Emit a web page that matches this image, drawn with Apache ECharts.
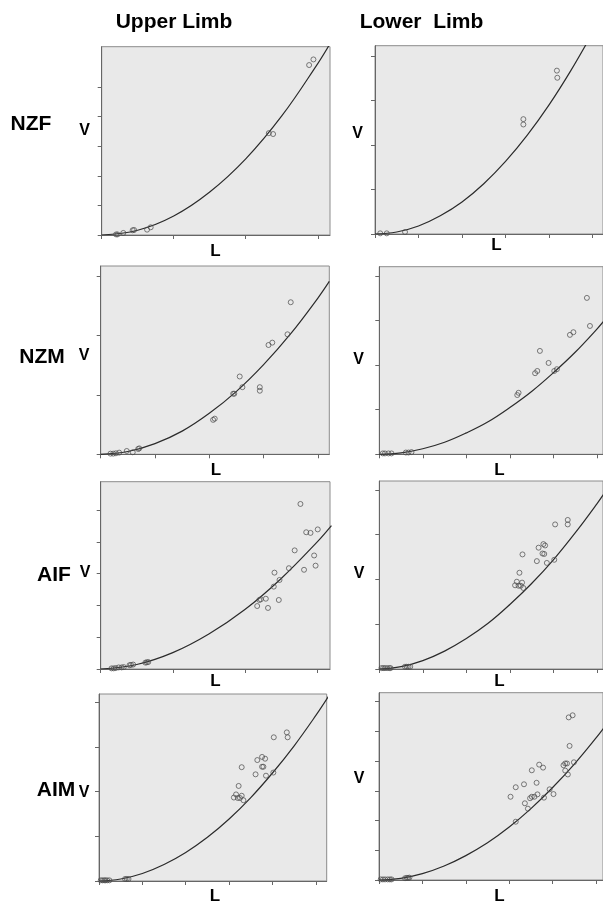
<!DOCTYPE html>
<html>
<head>
<meta charset="utf-8">
<script src="https://cdn.jsdelivr.net/npm/echarts@6/dist/echarts.min.js"></script>
<style>
html,body{margin:0;padding:0;background:#fff;}
#c{width:603px;height:908px;}
</style>
</head>
<body>
<div id="c"></div>
<script>
// ---------- DATA (in axis-tick units) ----------
const columnTitles = ['Upper Limb', 'Lower  Limb'];
const rowLabels = ['NZF', 'NZM', 'AIF', 'AIM'];
const xAxisName = 'L';
const yAxisName = 'V';

// tick positions per panel
const ticksX_ulNZF = [0, 1, 2, 3];
const ticksY_ulNZF = [0, 1, 2, 3, 4, 5];
const ticksX_llNZF = [0, 1, 2, 3, 4, 5];
const ticksY_llNZF = [0, 1, 2, 3, 4];
const ticksX_ulNZM = [0, 1, 2, 3, 4];
const ticksY_ulNZM = [0, 1, 2, 3];
const ticksX_llNZM = [0, 1, 2, 3, 4, 5];
const ticksY_llNZM = [0, 1, 2, 3, 4];
const ticksX_ulAIF = [0, 1, 2, 3];
const ticksY_ulAIF = [0, 1, 2, 3, 4, 5];
const ticksX_llAIF = [0, 1, 2, 3, 4, 5];
const ticksY_llAIF = [0, 1, 2, 3, 4];
const ticksX_ulAIM = [0, 1, 2, 3, 4, 5];
const ticksY_ulAIM = [0, 1, 2, 3, 4];
const ticksX_llAIM = [0, 1, 2, 3, 4, 5];
const ticksY_llAIM = [0, 1, 2, 3, 4, 5, 6];

// Upper limb, NZF
const ulNZF_L = [0.20, 0.22, 0.30, 0.43, 0.45, 0.63, 0.68, 2.32, 2.38, 2.88, 2.94];
const ulNZF_V = [0.02, 0.02, 0.07, 0.16, 0.17, 0.18, 0.26, 3.44, 3.41, 5.74, 5.93];
const ulNZF_curveL = [0, 0.5, 1, 1.5, 2, 2.5, 3, 3.17];
const ulNZF_curveV = [0, 0.16, 0.64, 1.45, 2.57, 4.02, 5.79, 6.46];

// Lower limb, NZF
const llNZF_L = [0.12, 0.27, 0.69, 3.41, 3.41, 4.18, 4.19];
const llNZF_V = [0.015, 0.015, 0.045, 2.58, 2.46, 3.67, 3.51];
const llNZF_curveL = [0, 0.5, 1, 1.5, 2, 2.5, 3, 3.5, 4, 4.5, 5];
const llNZF_curveV = [0, 0.045, 0.18, 0.41, 0.72, 1.13, 1.63, 2.22, 2.90, 3.67, 4.52];

// Upper limb, NZM
const ulNZM_L = [0.18, 0.23, 0.28, 0.34, 0.48, 0.59, 0.69, 0.71, 2.07, 2.10, 2.44, 2.46, 2.56, 2.61, 2.93, 2.93, 3.09, 3.16, 3.44, 3.50];
const ulNZM_V = [0.011, 0.011, 0.017, 0.028, 0.056, 0.034, 0.09, 0.10, 0.58, 0.60, 1.02, 1.02, 1.31, 1.13, 1.13, 1.07, 1.84, 1.88, 2.02, 2.56];
const ulNZM_curveL = [0, 0.5, 1, 1.5, 2, 2.5, 3, 3.5, 4, 4.21];
const ulNZM_curveV = [0, 0.047, 0.18, 0.39, 0.69, 1.06, 1.51, 2.03, 2.63, 2.91];

// Lower limb, NZM
const llNZM_L = [0.08, 0.13, 0.21, 0.28, 0.61, 0.67, 0.74, 3.17, 3.20, 3.58, 3.63, 3.69, 3.89, 4.02, 4.08, 4.38, 4.46, 4.77, 4.84];
const llNZM_V = [0.02, 0.02, 0.02, 0.02, 0.04, 0.04, 0.05, 1.33, 1.38, 1.82, 1.87, 2.32, 2.05, 1.87, 1.91, 2.68, 2.74, 3.51, 2.88];
const llNZM_curveL = [0, 0.5, 1, 1.5, 2, 2.5, 3, 3.5, 4, 4.5, 5, 5.2];
const llNZM_curveV = [0, 0.032, 0.124, 0.27, 0.48, 0.73, 1.05, 1.41, 1.83, 2.29, 2.81, 3.04];

// Upper limb, AIF
const ulAIF_L = [0.15, 0.18, 0.21, 0.25, 0.29, 0.32, 0.40, 0.42, 0.45, 0.62, 0.64, 0.66, 2.17, 2.20, 2.22, 2.29, 2.32, 2.40, 2.41, 2.47, 2.48, 2.61, 2.69, 2.77, 2.82, 2.85, 2.91, 2.96, 2.98, 3.01];
const ulAIF_V = [0.02, 0.02, 0.03, 0.05, 0.05, 0.06, 0.12, 0.13, 0.14, 0.20, 0.21, 0.22, 1.98, 2.17, 2.19, 2.21, 1.92, 2.59, 3.03, 2.17, 2.80, 3.17, 3.73, 5.19, 3.12, 4.30, 4.28, 3.57, 3.25, 4.39];
const ulAIF_curveL = [0, 0.5, 1, 1.5, 2, 2.5, 3, 3.2];
const ulAIF_curveV = [0, 0.141, 0.514, 1.10, 1.87, 2.84, 3.99, 4.51];

// Lower limb, AIF
const llAIF_L = [0.05, 0.09, 0.13, 0.18, 0.23, 0.26, 0.59, 0.63, 0.67, 0.71, 3.12, 3.16, 3.20, 3.22, 3.25, 3.28, 3.29, 3.31, 3.62, 3.66, 3.75, 3.77, 3.79, 3.81, 3.85, 4.02, 4.04, 4.33, 4.33];
const llAIF_V = [0.02, 0.02, 0.02, 0.02, 0.02, 0.02, 0.05, 0.05, 0.05, 0.05, 1.87, 1.95, 1.86, 2.15, 1.86, 1.93, 2.56, 1.81, 2.41, 2.71, 2.58, 2.79, 2.57, 2.76, 2.37, 2.44, 3.23, 3.23, 3.33];
const llAIF_curveL = [0, 0.5, 1, 1.5, 2, 2.5, 3, 3.5, 4, 4.5, 5, 5.2];
const llAIF_curveV = [0, 0.052, 0.188, 0.40, 0.68, 1.02, 1.44, 1.91, 2.44, 3.04, 3.69, 3.97];

// Upper limb, AIM
const ulAIM_L = [0.04, 0.08, 0.12, 0.15, 0.19, 0.24, 0.60, 0.64, 0.68, 3.11, 3.16, 3.20, 3.22, 3.25, 3.29, 3.29, 3.33, 3.61, 3.65, 3.76, 3.76, 3.79, 3.83, 3.85, 4.02, 4.03, 4.33, 4.35];
const ulAIM_V = [0.015, 0.015, 0.015, 0.015, 0.015, 0.015, 0.045, 0.045, 0.045, 1.87, 1.94, 1.86, 2.13, 1.86, 1.91, 2.55, 1.81, 2.39, 2.71, 2.78, 2.56, 2.56, 2.74, 2.36, 2.43, 3.22, 3.33, 3.22];
const ulAIM_curveL = [0, 0.5, 1, 1.5, 2, 2.5, 3, 3.5, 4, 4.5, 5, 5.3];
const ulAIM_curveV = [0, 0.045, 0.169, 0.37, 0.64, 0.98, 1.39, 1.87, 2.42, 3.03, 3.71, 4.15];

// Lower limb, AIM
const llAIM_L = [0.04, 0.09, 0.14, 0.20, 0.25, 0.29, 0.60, 0.64, 0.67, 0.70, 3.03, 3.15, 3.15, 3.34, 3.36, 3.43, 3.48, 3.52, 3.52, 3.58, 3.63, 3.65, 3.69, 3.78, 3.80, 3.93, 4.02, 4.25, 4.29, 4.33, 4.29, 4.35, 4.39, 4.37, 4.46, 4.49];
const llAIM_V = [0.02, 0.02, 0.02, 0.02, 0.02, 0.02, 0.06, 0.07, 0.07, 0.08, 2.80, 3.12, 1.96, 3.22, 2.58, 2.40, 2.75, 3.69, 2.80, 2.80, 3.27, 2.88, 3.88, 3.78, 2.77, 3.05, 2.89, 3.86, 3.92, 3.92, 3.68, 3.55, 4.51, 5.47, 5.54, 3.96];
const llAIM_curveL = [0, 0.5, 1, 1.5, 2, 2.5, 3, 3.5, 4, 4.5, 5, 5.2];
const llAIM_curveV = [0, 0.056, 0.214, 0.47, 0.82, 1.25, 1.78, 2.40, 3.11, 3.90, 4.78, 5.16];

// ---------- LAYOUT ----------
function zip(a, b) { return a.map((v, i) => [v, b[i]]); }

const panels = [
  { g: { left: 101.7, top: 46.7, width: 228.3, height: 188.3 }, xmax: 3.17, ymax: 6.36, xt: ticksX_ulNZF, yt: ticksY_ulNZF, L: ulNZF_L, V: ulNZF_V, cL: ulNZF_curveL, cV: ulNZF_curveV, vLab: [84.5, 131], lLab: [215.5, 251.5] },
  { g: { left: 375, top: 45.7, width: 228, height: 188.3 }, xmax: 5.24, ymax: 4.23, xt: ticksX_llNZF, yt: ticksY_llNZF, L: llNZF_L, V: llNZF_V, cL: llNZF_curveL, cV: llNZF_curveV, vLab: [357.5, 133.5], lLab: [496.5, 245.5] },
  { g: { left: 100.7, top: 266, width: 228.6, height: 188.3 }, xmax: 4.21, ymax: 3.17, xt: ticksX_ulNZM, yt: ticksY_ulNZM, L: ulNZM_L, V: ulNZM_V, cL: ulNZM_curveL, cV: ulNZM_curveV, vLab: [84, 355.5], lLab: [216, 470.5] },
  { g: { left: 379.3, top: 266.7, width: 223.7, height: 187.6 }, xmax: 5.14, ymax: 4.21, xt: ticksX_llNZM, yt: ticksY_llNZM, L: llNZM_L, V: llNZM_V, cL: llNZM_curveL, cV: llNZM_curveV, vLab: [358.5, 359.5], lLab: [499.5, 470] },
  { g: { left: 100.7, top: 481.7, width: 229.3, height: 187.3 }, xmax: 3.18, ymax: 5.89, xt: ticksX_ulAIF, yt: ticksY_ulAIF, L: ulAIF_L, V: ulAIF_V, cL: ulAIF_curveL, cV: ulAIF_curveV, vLab: [85, 573], lLab: [215.5, 681.5] },
  { g: { left: 379.3, top: 481, width: 223.7, height: 188 }, xmax: 5.14, ymax: 4.2, xt: ticksX_llAIF, yt: ticksY_llAIF, L: llAIF_L, V: llAIF_V, cL: llAIF_curveL, cV: llAIF_curveV, vLab: [359, 573.5], lLab: [499.5, 681.5] },
  { g: { left: 99, top: 694, width: 227.7, height: 187 }, xmax: 5.25, ymax: 4.19, xt: ticksX_ulAIM, yt: ticksY_ulAIM, L: ulAIM_L, V: ulAIM_V, cL: ulAIM_curveL, cV: ulAIM_curveV, vLab: [84, 793], lLab: [215, 896.5] },
  { g: { left: 379, top: 692.7, width: 224, height: 187.3 }, xmax: 5.16, ymax: 6.3, xt: ticksX_llAIM, yt: ticksY_llAIM, L: llAIM_L, V: llAIM_V, cL: llAIM_curveL, cV: llAIM_curveV, vLab: [359, 778.5], lLab: [499.5, 896.5] }
];

const titlePos = [[174, 22], [421.5, 22]];
const rowPos = [[31, 124.5], [42, 357], [54, 575], [56, 790]];

const FONT = "'Liberation Sans', Arial, Helvetica, sans-serif";

const grid = [], xAxis = [], yAxis = [], series = [], graphic = [];
panels.forEach((p, i) => {
  grid.push(Object.assign({ show: true, backgroundColor: '#e9e9e9', borderColor: '#8c8c8c', borderWidth: 1, containLabel: false }, p.g));
  xAxis.push({
    type: 'value', gridIndex: i, min: 0, max: p.xmax, interval: 1,
    axisLine: { show: true, onZero: false, lineStyle: { color: '#666', width: 1 } },
    axisTick: { show: true, customValues: p.xt, length: 4, lineStyle: { color: '#666' } },
    axisLabel: { show: false }, splitLine: { show: false }
  });
  yAxis.push({
    type: 'value', gridIndex: i, min: 0, max: p.ymax, interval: 1,
    axisLine: { show: true, onZero: false, lineStyle: { color: '#666', width: 1 } },
    axisTick: { show: true, customValues: p.yt, length: 4, lineStyle: { color: '#666' } },
    axisLabel: { show: false }, splitLine: { show: false }
  });
  series.push({
    type: 'line', xAxisIndex: i, yAxisIndex: i, data: zip(p.cL, p.cV),
    smooth: 0.4, showSymbol: false, symbol: 'none', clip: true, silent: true,
    lineStyle: { color: '#2b2b2b', width: 1.2 }, z: 2
  });
  series.push({
    type: 'scatter', xAxisIndex: i, yAxisIndex: i, data: zip(p.L, p.V),
    symbol: 'circle', symbolSize: 5, silent: true,
    itemStyle: { color: 'rgba(0,0,0,0)', borderColor: '#4a4a4a', borderWidth: 0.9 }, z: 3
  });
  graphic.push({ type: 'text', x: p.vLab[0], y: p.vLab[1], style: { text: yAxisName, font: 'bold 16px ' + FONT, fill: '#000', align: 'center', verticalAlign: 'middle' } });
  graphic.push({ type: 'text', x: p.lLab[0], y: p.lLab[1], style: { text: xAxisName, font: 'bold 17px ' + FONT, fill: '#000', align: 'center', verticalAlign: 'middle' } });
});
columnTitles.forEach((t, i) => {
  graphic.push({ type: 'text', x: titlePos[i][0], y: titlePos[i][1], style: { text: t, font: 'bold 21px ' + FONT, fill: '#000', align: 'center', verticalAlign: 'middle' } });
});
rowLabels.forEach((t, i) => {
  graphic.push({ type: 'text', x: rowPos[i][0], y: rowPos[i][1], style: { text: t, font: 'bold 21px ' + FONT, fill: '#000', align: 'center', verticalAlign: 'middle' } });
});

const chart = echarts.init(document.getElementById('c'), null, { renderer: 'canvas' });
chart.setOption({
  animation: false,
  backgroundColor: '#fff',
  grid, xAxis, yAxis, series, graphic
});
</script>
</body>
</html>
